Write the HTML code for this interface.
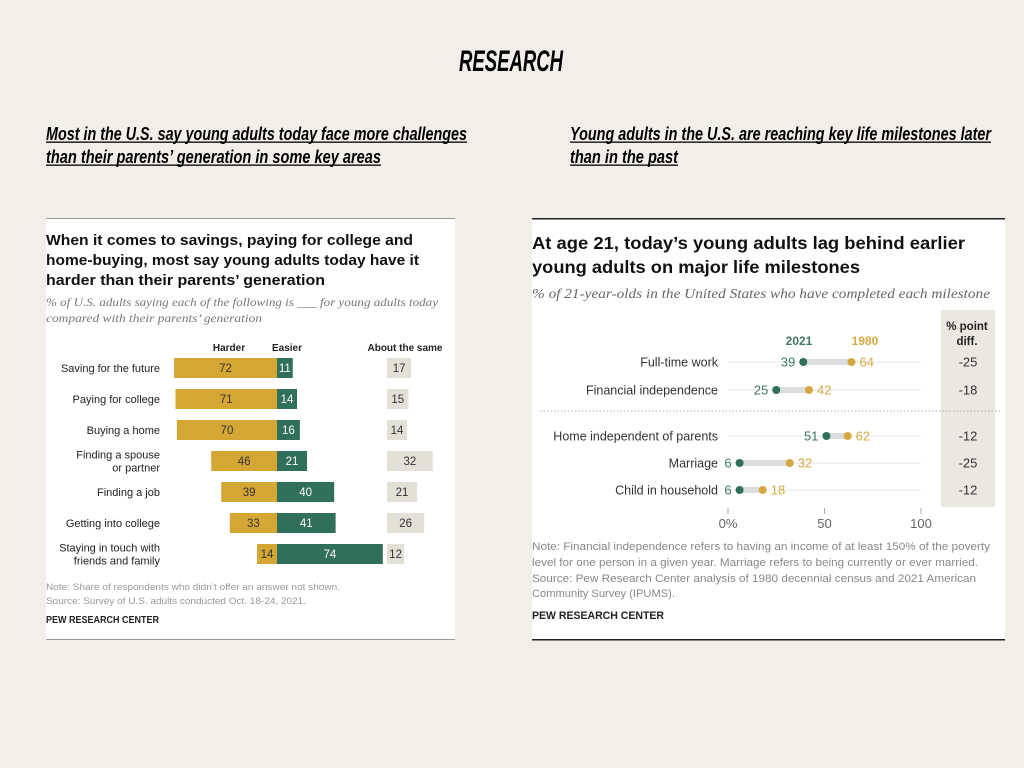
<!DOCTYPE html>
<html><head><meta charset="utf-8">
<style>
html,body{margin:0;padding:0;background:#f2efe9;}
svg{display:block;font-family:"Liberation Sans",sans-serif;}
.cond{font-family:"Liberation Sans Narrow","Liberation Sans",sans-serif;font-weight:bold;font-style:italic;}
</style></head>
<body>
<svg id="s" width="1024" height="768" viewBox="0 0 1024 768" xmlns="http://www.w3.org/2000/svg">
<rect width="1024" height="768" fill="#f2efe9"/>
<text class="cond" x="459" y="71" font-size="30" textLength="104" lengthAdjust="spacingAndGlyphs">RESEARCH</text>
<g class="cond" font-size="18">
<text x="46" y="140" textLength="421" lengthAdjust="spacingAndGlyphs">Most in the U.S. say young adults today face more challenges</text>
<text x="46" y="163" textLength="335" lengthAdjust="spacingAndGlyphs">than their parents’ generation in some key areas</text>
<rect x="46" y="141.5" width="421" height="1.3" fill="#000"/><rect x="46" y="164.5" width="335" height="1.3" fill="#000"/>
</g>
<g class="cond" font-size="18">
<text x="570" y="140" textLength="421" lengthAdjust="spacingAndGlyphs">Young adults in the U.S. are reaching key life milestones later</text>
<text x="570" y="163" textLength="108" lengthAdjust="spacingAndGlyphs">than in the past</text>
<rect x="570" y="141.5" width="421" height="1.3" fill="#000"/><rect x="570" y="164.5" width="108" height="1.3" fill="#000"/>
</g>

<!-- Left panel -->
<g>
<rect x="46" y="218" width="409" height="422" fill="#fff"/>
<rect x="46" y="218" width="409" height="1" fill="#999"/>
<rect x="46" y="639" width="409" height="1" fill="#999"/>
<g font-weight="bold" font-size="15" fill="#111">
<text x="46" y="245" textLength="367" lengthAdjust="spacingAndGlyphs">When it comes to savings, paying for college and</text>
<text x="46" y="265" textLength="373" lengthAdjust="spacingAndGlyphs">home-buying, most say young adults today have it</text>
<text x="46" y="285" textLength="279" lengthAdjust="spacingAndGlyphs">harder than their parents’ generation</text></g>
<g font-family="Liberation Serif,serif" font-style="italic" font-size="12" fill="#777">
<text x="46" y="306" textLength="392" lengthAdjust="spacingAndGlyphs">% of U.S. adults saying each of the following is ___ for young adults today</text>
<text x="46" y="322" textLength="216" lengthAdjust="spacingAndGlyphs">compared with their parents’ generation</text></g>
<g font-weight="bold" font-size="10" fill="#222">
<text x="229" y="351" text-anchor="middle">Harder</text>
<text x="287" y="351" text-anchor="middle">Easier</text>
<text x="405" y="351" text-anchor="middle">About the same</text></g>
<g id="bars"></g>
<g font-size="9.5" fill="#999">
<text x="46" y="590" textLength="294" lengthAdjust="spacingAndGlyphs">Note: Share of respondents who didn’t offer an answer not shown.</text>
<text x="46" y="604" textLength="260" lengthAdjust="spacingAndGlyphs">Source: Survey of U.S. adults conducted Oct. 18-24, 2021.</text></g>
<text x="46" y="623" font-size="10" font-weight="bold" fill="#222" textLength="113" lengthAdjust="spacingAndGlyphs">PEW RESEARCH CENTER</text>
</g>

<!-- Right panel -->
<g>
<rect x="532" y="219" width="473" height="421" fill="#fff"/>
<rect x="532" y="218" width="473" height="1.5" fill="#222"/>
<rect x="532" y="639" width="473" height="1.5" fill="#222"/>
<g font-weight="bold" font-size="17.5" fill="#111">
<text x="532" y="249" textLength="433" lengthAdjust="spacingAndGlyphs">At age 21, today’s young adults lag behind earlier</text>
<text x="532" y="273" textLength="328" lengthAdjust="spacingAndGlyphs">young adults on major life milestones</text></g>
<text x="532" y="298" font-family="Liberation Serif,serif" font-style="italic" font-size="13.5" fill="#666" textLength="458" lengthAdjust="spacingAndGlyphs">% of 21-year-olds in the United States who have completed each milestone</text>
<rect x="941" y="310" width="54" height="197" fill="#ebe8e1"/>
<g font-weight="bold" font-size="11.5" fill="#222" text-anchor="middle">
<text x="967" y="330">% point</text><text x="967" y="345">diff.</text></g>
<text x="799" y="345" font-weight="bold" font-size="12" fill="#3f7763" text-anchor="middle">2021</text>
<text x="865" y="345" font-weight="bold" font-size="12" fill="#d6aa45" text-anchor="middle">1980</text>
<line x1="540" y1="411" x2="1002" y2="411" stroke="#aaa" stroke-dasharray="1.5,2"/>
<g id="dots"></g>
<g font-size="11" fill="#888">
<text x="532" y="550" textLength="458" lengthAdjust="spacingAndGlyphs">Note: Financial independence refers to having an income of at least 150% of the poverty</text>
<text x="532" y="566" textLength="446" lengthAdjust="spacingAndGlyphs">level for one person in a given year. Marriage refers to being currently or ever married.</text>
<text x="532" y="582" textLength="444" lengthAdjust="spacingAndGlyphs">Source: Pew Research Center analysis of 1980 decennial census and 2021 American</text>
<text x="532" y="597" textLength="143" lengthAdjust="spacingAndGlyphs">Community Survey (IPUMS).</text></g>
<text x="532" y="619" font-size="11" font-weight="bold" fill="#222" textLength="132" lengthAdjust="spacingAndGlyphs">PEW RESEARCH CENTER</text>
</g>
</svg>
<script>
const barCats = ["Saving for the future","Paying for college","Buying a home","Finding a spouse|or partner","Finding a job","Getting into college","Staying in touch with|friends and family"];
const harder = [72,71,70,46,39,33,14];
const easier = [11,14,16,21,40,41,74];
const same = [17,15,14,32,21,26,12];

const msCats = ["Full-time work","Financial independence","Home independent of parents","Marriage","Child in household"];
const v2021 = [39,25,51,6,6];
const v1980 = [64,42,62,32,18];
const diffs = [-25,-18,-12,-25,-12];
const xTicks = [0,50,100];
const xTickLabels = ["0%","50","100"];

const NS="http://www.w3.org/2000/svg";
function mk(p,t,a,txt){const e=document.createElementNS(NS,t);for(const k in a)e.setAttribute(k,a[k]);if(txt!=null)e.textContent=txt;p.appendChild(e);return e;}

const bx0=277, bk=1.43, sameX=387;
const by=i=>368+i*31;
const bars=document.getElementById('bars');
barCats.forEach((c,i)=>{
  const y=by(i);
  const g=mk(bars,'g',{});
  
  
  const parts=c.split('|');
  parts.forEach((p,j)=>{const t=mk(g,'text',{x:160,y:y+4+(parts.length>1?(j-0.5)*13:0),'text-anchor':'end','font-size':11,fill:'#222'},p);
    
    });
  const h=harder[i]*bk;
  const r1=mk(g,'rect',{x:bx0-h,y:y-10,width:h,height:20,fill:'#d4a735'});
  
  
  mk(g,'text',{x:bx0-h/2,y:y+4,'text-anchor':'middle','font-size':11.5,fill:'#333'},harder[i]);
  const e=easier[i]*bk;
  const r2=mk(g,'rect',{x:bx0,y:y-10,width:e,height:20,fill:'#2f6f5c'});
  
  
  mk(g,'text',{x:bx0+e/2,y:y+4,'text-anchor':'middle','font-size':11.5,fill:'#fff'},easier[i]);
  const s=same[i]*bk;
  const r3=mk(g,'rect',{x:sameX,y:y-10,width:s,height:20,fill:'#e3e0d6'});
  
  
  mk(g,'text',{x:sameX+s/2,y:y+4,'text-anchor':'middle','font-size':11.5,fill:'#333'},same[i]);
});

const dx=v=>728+v*1.93;
const rowY=[362,390,436,463,490];
const dots=document.getElementById('dots');
msCats.forEach((c,i)=>{
  const y=rowY[i];
  const g=mk(dots,'g',{});
  
  
  const l=mk(g,'text',{x:718,y:y+4.5,'text-anchor':'end','font-size':12.5,fill:'#333'},c);
  
  
  mk(g,'line',{x1:dx(0),x2:dx(100),y1:y,y2:y,stroke:'#e6e6e6','stroke-width':1});
  mk(g,'line',{x1:dx(v2021[i]),x2:dx(v1980[i]),y1:y,y2:y,stroke:'#ddd','stroke-width':6});
  const d1=mk(g,'circle',{cx:dx(v2021[i]),cy:y,r:4,fill:'#2f6f5c'});
  
  
  const d2=mk(g,'circle',{cx:dx(v1980[i]),cy:y,r:4,fill:'#d4a842'});
  
  
  mk(g,'text',{x:dx(v2021[i])-8,y:y+4.5,'text-anchor':'end','font-size':13,fill:'#3f7763'},v2021[i]);
  mk(g,'text',{x:dx(v1980[i])+8,y:y+4.5,'font-size':13,fill:'#d6aa45'},v1980[i]);
  const d=mk(g,'text',{x:968,y:y+4.5,'text-anchor':'middle','font-size':13,fill:'#333'},diffs[i]);
  
  
});
xTicks.forEach((t,i)=>{
  const tl=mk(dots,'line',{x1:dx(t),x2:dx(t),y1:508,y2:514,stroke:'#aaa'});
  
  
  const tt=mk(dots,'text',{x:dx(t),y:528,'text-anchor':'middle','font-size':13,fill:'#666'},xTickLabels[i]);
  
  
});
</script>
</body></html>
